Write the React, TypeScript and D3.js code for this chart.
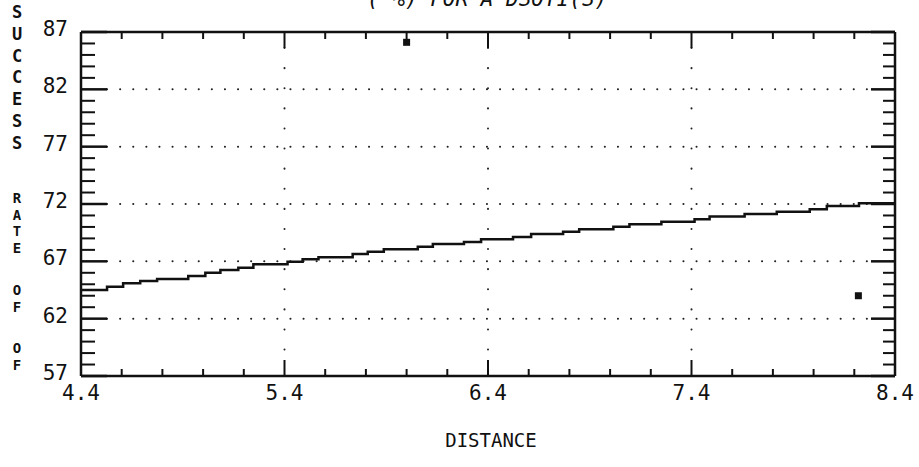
import React from 'react';
import * as d3 from 'd3';

const xTickValues = [4.4, 5.4, 6.4, 7.4, 8.4];
const xTickLabels = ['4.4', '5.4', '6.4', '7.4', '8.4'];
const yTickValues = [57, 62, 67, 72, 77, 82, 87];
const yTickLabels = ['57', '62', '67', '72', '77', '82', '87'];

const fitDistance = [4.4, 4.528, 4.607, 4.691, 4.774, 4.927, 5.011, 5.085, 5.173, 5.247, 5.415, 5.489, 5.567, 5.735, 5.809, 5.888, 6.055, 6.129, 6.282, 6.366, 6.523, 6.612, 6.769, 6.848, 7.016, 7.095, 7.252, 7.415, 7.489, 7.661, 7.819, 7.981, 8.065, 8.223, 8.4];
const fitRate = [64.5, 64.79, 65.08, 65.29, 65.46, 65.72, 66.01, 66.25, 66.45, 66.74, 66.97, 67.18, 67.35, 67.64, 67.84, 68.05, 68.28, 68.51, 68.69, 68.92, 69.12, 69.38, 69.58, 69.79, 70.02, 70.23, 70.46, 70.67, 70.9, 71.13, 71.33, 71.54, 71.83, 72.06, 72.06];

const obsDistance = [6.0, 8.22];
const obsRate = [86.1, 64.0];

const titleText = '( %) FOR A DSOTI(S)';
const xTitle = 'DISTANCE';
const yTitleWords = ['SUCCESS', 'RATE', 'OF', 'OF'];
const yTitleStarts = [12, 198, 290, 348];
const yTitleSteps = [21.8, 16.5, 16.5, 16.5];
const yTitleSizes = [17, 14, 14, 14];

const W = 919, H = 467;
const L = 81, R = 895, T = 32, B = 376;
const FONT = '"DejaVu Sans Mono", "Liberation Mono", monospace';

export default function App() {
  const x = d3.scaleLinear().domain([4.4, 8.4]).range([L, R]);
  const y = d3.scaleLinear().domain([57, 87]).range([B, T]);

  const xMinor = d3.range(0, 21).map((i) => 4.4 + i * 0.2);
  const yMinor = d3.range(57, 88);
  const xInner = xTickValues.slice(1, -1);
  const yInner = yTickValues.slice(1, -1);

  const fitData = fitDistance.map((d, i) => [d, fitRate[i]] as [number, number]);
  const line = d3.line<[number, number]>()
    .x((d) => x(d[0]))
    .y((d) => y(d[1]))
    .curve(d3.curveStepAfter);

  const isMajorX = (v: number) => xTickValues.some((t) => Math.abs(t - v) < 1e-6);
  const isMajorY = (v: number) => yTickValues.some((t) => Math.abs(t - v) < 1e-6);

  return (
    <svg width={W} height={H} style={{ position: 'absolute', left: 0, top: 0, background: '#fff' }}>
      <rect x={0} y={0} width={W} height={H} fill="#fff" />
      {/* title (clipped at top) */}
      <text x={367} y={6} fontFamily={FONT} fontSize={21} fontStyle="italic" fill="#111">{titleText}</text>

      {/* grid */}
      <g stroke="#222" strokeWidth={2} strokeLinecap="round">
        {yInner.map((v) => (
          <line key={'gy' + v} x1={L + 26} x2={R - 24} y1={y(v)} y2={y(v)} strokeDasharray="0.1,13" />
        ))}
        {xInner.map((v) => (
          <line key={'gx' + v} x1={x(v)} x2={x(v)} y1={T + 16} y2={B - 16} strokeDasharray="0.1,20" />
        ))}
      </g>

      {/* ticks */}
      <g stroke="#111" strokeWidth={2}>
        {xMinor.map((v, i) => {
          const len = isMajorX(v) ? 16 : 7;
          return (
            <g key={'xt' + i}>
              <line x1={x(v)} x2={x(v)} y1={T} y2={T + len} />
              <line x1={x(v)} x2={x(v)} y1={B} y2={B - len} />
            </g>
          );
        })}
        {yMinor.map((v) => {
          const major = isMajorY(v);
          return (
            <g key={'yt' + v}>
              <line x1={L} x2={L + (major ? 26 : 14)} y1={y(v)} y2={y(v)} strokeWidth={major ? 2.5 : 2} />
              <line x1={R} x2={R - (major ? 24 : 12)} y1={y(v)} y2={y(v)} strokeWidth={major ? 2.5 : 2} />
            </g>
          );
        })}
      </g>

      {/* frame */}
      <g stroke="#111" fill="none">
        <line x1={L} x2={R} y1={T} y2={T} strokeWidth={2.5} />
        <line x1={L} x2={R} y1={B} y2={B} strokeWidth={2.5} />
        <line x1={L} x2={L} y1={T} y2={B} strokeWidth={2.5} />
        <line x1={R} x2={R} y1={T} y2={B} strokeWidth={2.5} />
      </g>

      {/* fitted curve */}
      <path d={line(fitData) || ''} fill="none" stroke="#111" strokeWidth={2.5} />

      {/* observed points */}
      {obsDistance.map((d, i) => (
        <rect key={'p' + i} x={x(d) - 3.5} y={y(obsRate[i]) - 3.5} width={7} height={7} fill="#111" />
      ))}

      {/* y tick labels */}
      {yTickValues.map((v, i) => (
        <text key={'yl' + v} x={68} y={y(v) - 3} textAnchor="end" dominantBaseline="central"
          fontFamily={FONT} fontSize={21} fill="#111">{yTickLabels[i]}</text>
      ))}

      {/* x tick labels */}
      {xTickValues.map((v, i) => (
        <text key={'xl' + v} x={x(v)} y={393} textAnchor="middle" dominantBaseline="central"
          fontFamily={FONT} fontSize={21} fill="#111">{xTickLabels[i]}</text>
      ))}

      {/* x title */}
      <text x={491} y={440} textAnchor="middle" dominantBaseline="central" fontFamily={FONT} fontSize={19} fill="#111">{xTitle}</text>

      {/* y title (stacked characters) */}
      {yTitleWords.map((w, wi) => (
        <g key={'yw' + wi}>
          {w.split('').map((c, ci) => (
            <text key={ci} x={17} y={yTitleStarts[wi] + ci * yTitleSteps[wi]} textAnchor="middle" dominantBaseline="central"
              fontFamily={FONT} fontSize={yTitleSizes[wi]} fontWeight="bold" fill="#111">{c}</text>
          ))}
        </g>
      ))}
    </svg>
  );
}
